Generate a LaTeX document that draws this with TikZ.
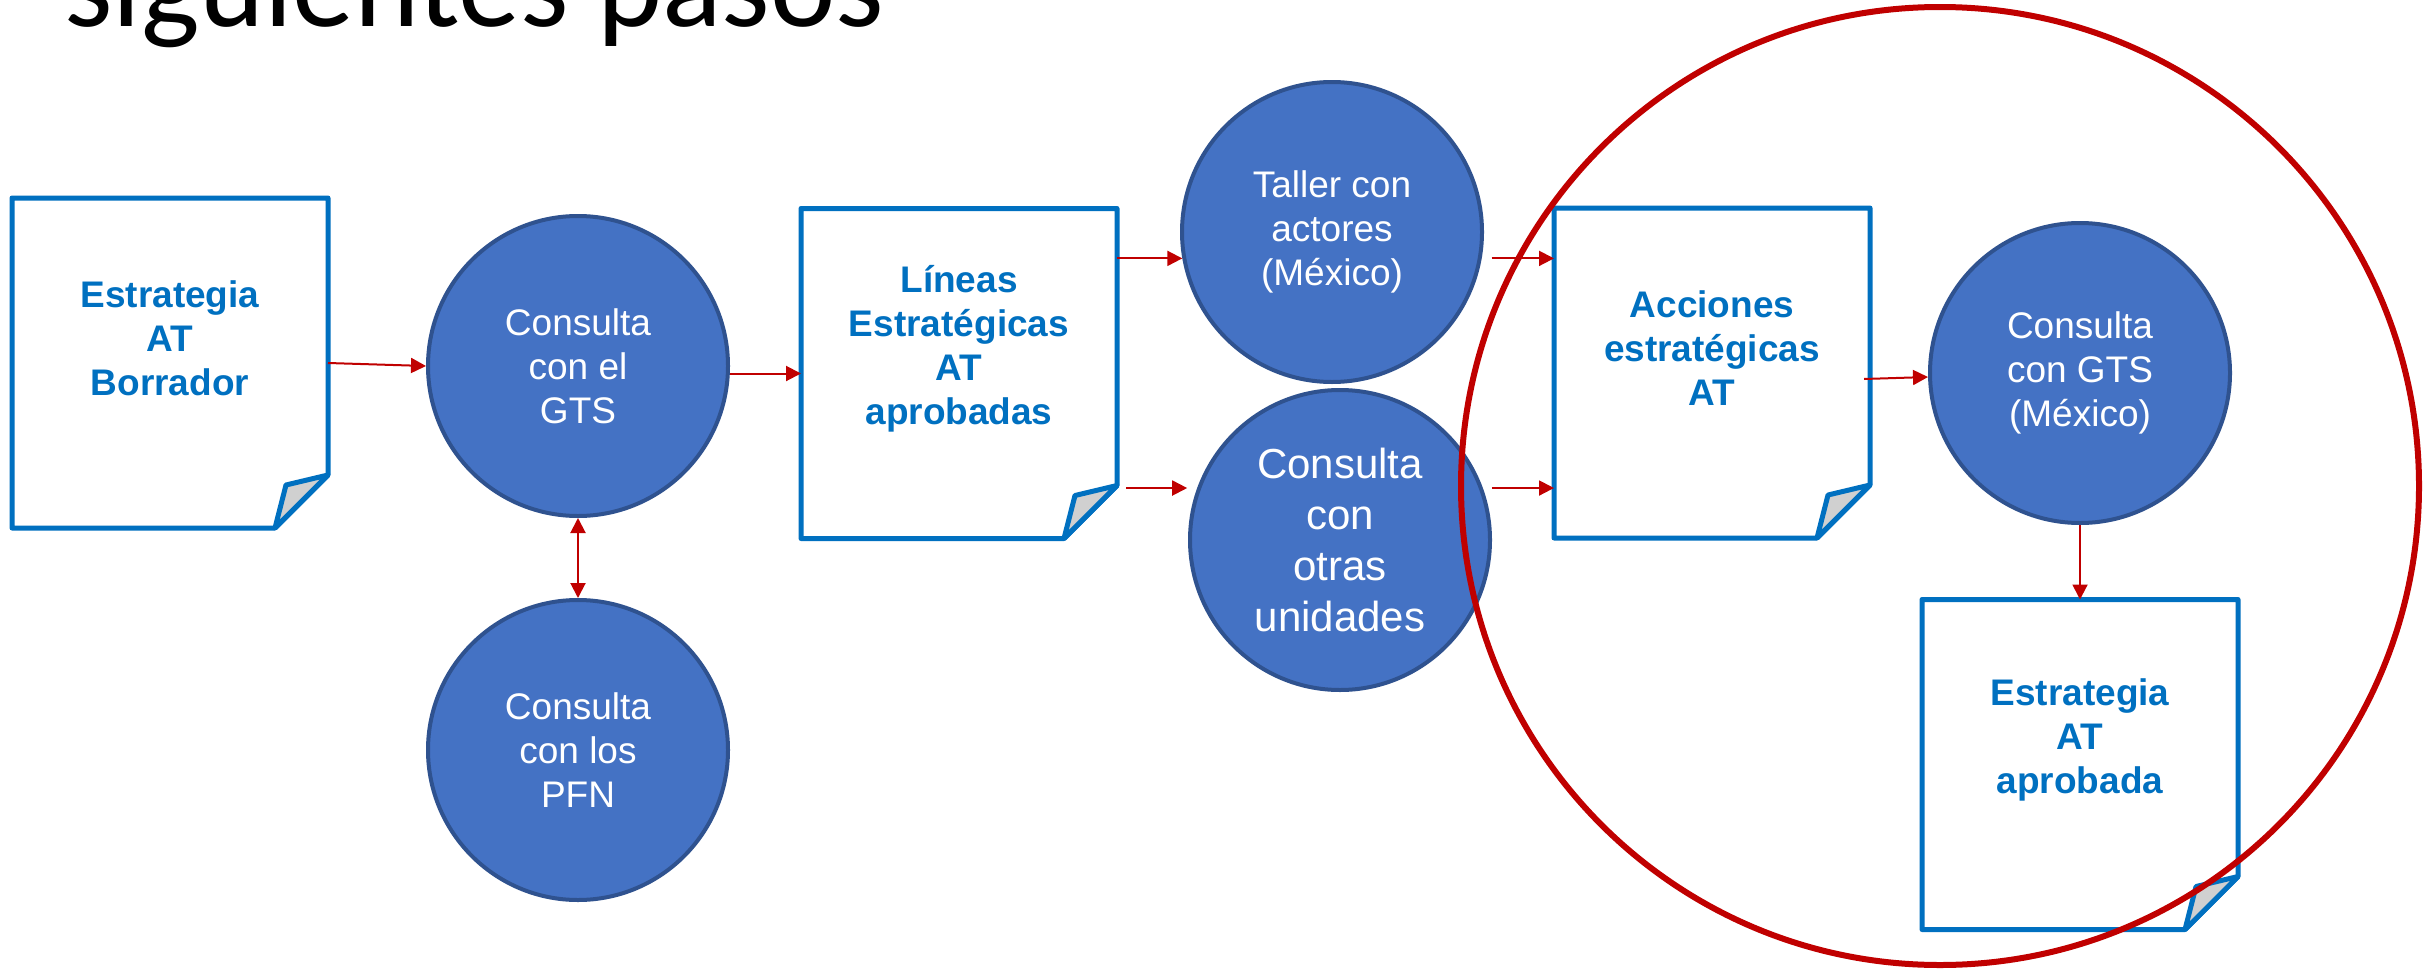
\documentclass[tikz,border=0pt]{standalone}
\usepackage{fontspec}
\setmainfont{Liberation Sans}
\newfontfamily\calibrifont{Carlito}
\usetikzlibrary{arrows.meta,calc}
\definecolor{docblue}{HTML}{0070C0}
\definecolor{circfill}{HTML}{4472C4}
\definecolor{circline}{HTML}{2F528F}
\definecolor{arrred}{HTML}{C00000}
\definecolor{foldgray}{HTML}{D0D0D0}
\newcommand{\docshape}[1]{%
  \draw[docline] (#1.north west) -- (#1.north east) -- ([yshift=53pt]#1.south east)
     -- ([xshift=-53pt]#1.south east) -- (#1.south west) -- cycle;
  \filldraw[docline, fill=foldgray] ([xshift=-53pt]#1.south east)
     -- ([xshift=-42pt,yshift=43pt]#1.south east) -- ([yshift=53pt]#1.south east) -- cycle;}
\begin{document}
\begin{tikzpicture}[x=1pt,y=-1pt,
  docnode/.style={rectangle, minimum width=316pt, minimum height=330pt, inner sep=0pt, outer sep=0pt},
  docline/.style={draw=docblue, line width=5pt, line join=round},
  doctext/.style={text=docblue, font=\fontsize{37}{44}\selectfont\bfseries, align=center, inner sep=0pt},
  proc/.style={circle, fill=circfill, draw=circline, line width=4pt, minimum size=300pt, inner sep=0pt,
     text=white, font=\fontsize{37}{44}\selectfont, align=center},
  arr/.style={draw=arrred, line width=2pt, -{Triangle[length=15pt,width=15pt]}},
  darr/.style={draw=arrred, line width=2pt, {Triangle[length=15pt,width=15pt]}-{Triangle[length=15pt,width=15pt]}},
  ring/.style={draw=arrred, line width=6pt}
]
\useasboundingbox (0,0) rectangle (2425,969);
\clip (0,0) rectangle (2425,969);
\fill[white] (0,0) rectangle (2425,969);

% title (cut at top)
\node[anchor=base west, inner sep=0pt, font=\calibrifont\fontsize{124}{124}\selectfont] (title) at (64,27) {siguientes pasos};

% documents
\node[docnode] (d1) at (170,363) {};
\node[docnode] (d2) at (959,373.5) {};
\node[docnode] (acc) at (1712,373) {};
\node[docnode] (fin) at (2080,764.5) {};
\docshape{d1}
\docshape{d2}
\docshape{acc}
\docshape{fin}
\node[doctext] (d1t) at ($(d1.center)+(0,-25)$) {Estrategia\\AT\\Borrador};
\node[doctext] (d2t) at ($(d2.center)+(0,-25)$) {Líneas\\Estratégicas\\AT\\aprobadas};
\node[doctext] (acct) at ($(acc.center)+(0,-25)$) {Acciones\\estratégicas\\AT};
\node[doctext] (fint) at ($(fin.center)+(0,-25)$) {Estrategia\\AT\\aprobada};

% process circles
\node[proc] (c1) at (578,366) {Consulta\\con el\\GTS};
\node[proc] (c2) at (578,750) {Consulta\\con los\\PFN};
\node[proc] (tal) at (1332,232) {Taller con\\actores\\(México)};
\node[proc, font=\fontsize{42}{51}\selectfont] (oth) at (1340,540) {Consulta\\con\\otras\\unidades};
\node[proc] (gm) at (2080,373) {Consulta\\con GTS\\(México)};

% connectors
\draw[arr] (d1.east) -- (c1.west);
\draw[arr] (c1.east |- d2.west) -- (d2.west);
\draw[darr] (c1.south) -- (c2.north);
\draw[arr] (d2.east |- tal.190) -- (tal.190);
\draw[arr] ($(d2.east |- oth.160)+(9,0)$) -- ($(oth.160)+(-10,0)$);
\draw[arr] ($(tal.350)+(10,0)$) -- (acc.west |- tal.350);
\draw[arr] ($(oth.20)+(9,0)$) -- (acc.west |- oth.20);
\draw[arr] ($(acc.east)+(-6,6)$) -- ($(gm.west)+(0,4)$);
\draw[arr] (gm.south) -- (fin.north);

% highlight ring
\draw[ring] (1940,486) circle[radius=479pt];
\end{tikzpicture}
\end{document}
